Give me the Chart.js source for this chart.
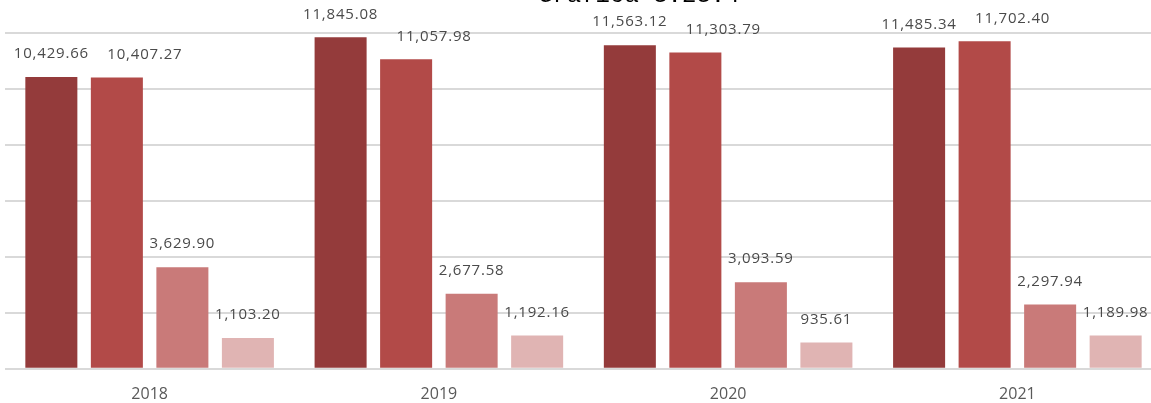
<!DOCTYPE html>
<html lang="es">
<head>
  <meta charset="UTF-8">
  <title>Gráfica 3.23.4</title>
  <script src="https://cdn.jsdelivr.net/npm/chart.js"></script>
  <style>
    html, body { margin: 0; padding: 0; background: #fff; overflow: hidden; }
    #wrap { position: relative; width: 1151px; height: 403px; overflow: hidden; }
    #title {
      position: absolute; left: 538px; top: -16px; white-space: nowrap;
      font-family: "Liberation Mono", "DejaVu Sans Mono", monospace;
      font-size: 24px; line-height: 24px; color: #000;
    }
  </style>
</head>
<body>
  <div id="wrap">
    <!-- canvas is a little wider than the window: the original is cut at the right edge -->
    <canvas id="chart" width="1162" height="403"></canvas>
    <div id="title">Gráfica 3.23.4</div>
  </div>

  <script>
    const years = ['2018', '2019', '2020', '2021'];
    const serie1 = [10429.66, 11845.08, 11563.12, 11485.34];
    const serie2 = [10407.27, 11057.98, 11303.79, 11702.40];
    const serie3 = [3629.90, 2677.58, 3093.59, 2297.94];
    const serie4 = [1103.20, 1192.16, 935.61, 1189.98];
    const colors = ['#943b3b', '#b24a48', '#c97a79', '#e0b4b3'];

    // labels of the 2nd series sit a bit to the right, as in the original
    const labelNudgeX = [0, 28, 0, 0];

    const fmt = v => v.toLocaleString('en-US', { minimumFractionDigits: 2, maximumFractionDigits: 2 });

    const valueLabels = {
      id: 'valueLabels',
      afterDatasetsDraw(chart) {
        const ctx = chart.ctx;
        ctx.save();
        ctx.font = '15px "Open Sans", Arial, sans-serif';
        ctx.letterSpacing = '0.8px';
        ctx.fillStyle = '#4a4a4a';
        ctx.textAlign = 'center';
        ctx.textBaseline = 'middle';
        chart.data.datasets.forEach((ds, i) => {
          chart.getDatasetMeta(i).data.forEach((bar, j) => {
            ctx.fillText(fmt(ds.data[j]), bar.x + labelNudgeX[i], bar.y - 23);
          });
        });
        ctx.restore();
      }
    };

    new Chart(document.getElementById('chart'), {
      type: 'bar',
      data: {
        labels: years,
        datasets: [
          { label: 'Serie 1', data: serie1, backgroundColor: colors[0] },
          { label: 'Serie 2', data: serie2, backgroundColor: colors[1] },
          { label: 'Serie 3', data: serie3, backgroundColor: colors[2] },
          { label: 'Serie 4', data: serie4, backgroundColor: colors[3] },
        ],
      },
      options: {
        responsive: false,
        animation: false,
        layout: { padding: { top: 33, left: 5, right: 0, bottom: -17 } },
        datasets: { bar: { categoryPercentage: 0.906, barPercentage: 0.794 } },
        plugins: { legend: { display: false }, tooltip: { enabled: false } },
        scales: {
          x: {
            grid: { display: false, drawTicks: false },
            border: { display: false },
            ticks: { color: '#595959', padding: 16, font: { size: 16, family: '"Open Sans", Arial, sans-serif' } },
          },
          y: {
            min: 0, max: 12000,
            ticks: { display: false, stepSize: 2000 },
            border: { display: false },
            grid: { color: '#d9d9d9', lineWidth: 2, drawTicks: false },
          },
        },
      },
      plugins: [valueLabels],
    });
  </script>
</body>
</html>
